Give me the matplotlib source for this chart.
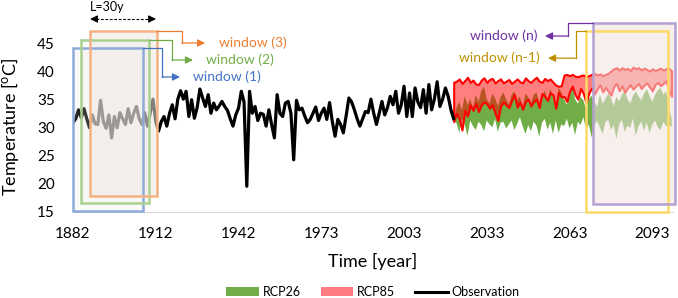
import numpy as np
import matplotlib
matplotlib.use('Agg')
import matplotlib.pyplot as plt
from matplotlib.patches import Patch, Rectangle
from matplotlib.lines import Line2D

plt.rcParams['font.family'] = ['Lato', 'DejaVu Sans']
plt.rcParams['mathtext.fontset'] = 'custom'
plt.rcParams['mathtext.rm'] = 'Lato'

# x axis is an index axis (one point per year), labelled every 30 points
tick_pos = [0, 30, 60, 90, 120, 150, 180, 210]
tick_labels = ['1882', '1912', '1942', '1973', '2003', '2033', '2063', '2093']

# observed temperature, index 0..138
observation = [
    30.8, 31.5, 33.1, 31.7, 33.3, 31.5, 29.9, 32.2, 30.6, 30.5,
    34.8, 31.0, 29.8, 32.2, 28.1, 31.9, 29.9, 32.6, 31.5, 30.5,
    33.3, 30.8, 32.5, 33.7, 31.5, 30.5, 32.6, 30.2, 32.5, 35.0,
    31.0, 29.3, 31.0, 31.9, 30.2, 32.5, 34.0, 31.5, 35.0, 36.5,
    35.0, 36.4, 31.9, 34.9, 31.6, 33.5, 36.8, 35.2, 33.7, 35.8,
    32.5, 34.3, 33.1, 33.8, 34.6, 33.7, 33.0, 31.5, 30.2, 32.2,
    33.4, 36.4, 34.5, 19.5, 36.4, 32.5, 33.7, 31.2, 32.5, 32.3,
    30.2, 33.1, 30.5, 28.1, 35.8, 32.5, 31.9, 34.3, 34.6, 32.5,
    24.2, 34.8, 33.1, 33.4, 32.0, 30.8, 31.4, 32.5, 33.6, 31.2,
    32.5, 33.4, 31.4, 34.4, 31.0, 28.4, 31.4, 30.5, 29.0, 32.0,
    35.2, 34.5, 33.1, 31.5, 30.2, 31.5, 32.8, 32.6, 35.0, 32.5,
    30.5, 32.5, 34.6, 32.2, 33.5, 35.5, 34.0, 36.4, 32.5, 34.0,
    37.3, 31.9, 36.1, 31.9, 37.0, 34.5, 33.5, 36.7, 32.5, 37.6,
    33.1, 35.0, 38.1, 33.7, 35.0, 37.0, 35.5, 33.1, 31.5,
]

# projections, index 138..217
rcp85_hi = [
    38.0, 38.2, 38.6, 37.8, 38.3, 38.9, 38.0, 38.4, 37.7, 37.6,
    38.4, 38.8, 38.0, 38.5, 38.7, 37.9, 38.3, 38.6, 37.9, 38.2,
    38.5, 37.8, 38.2, 38.6, 38.1, 37.9, 38.8, 38.3, 38.0, 38.5,
    38.9, 38.2, 38.0, 38.7, 38.3, 38.6, 38.0, 37.5, 37.3, 37.4,
    39.3, 39.4, 39.2, 39.4, 39.1, 39.0, 39.2, 39.3, 39.0, 39.2,
    39.4, 39.6, 39.3, 39.5, 39.2, 39.4, 39.6, 40.0, 40.4, 40.6,
    40.2, 40.6, 40.3, 40.5, 40.1, 40.7, 40.4, 40.6, 40.2, 40.5,
    40.3, 40.0, 40.4, 40.1, 40.3, 40.5, 40.2, 40.4, 40.5, 40.0,
]
rcp85_lo = [
    31.0, 32.5, 31.5, 29.5, 33.0, 32.0, 34.0, 33.0, 34.2, 32.8,
    34.0, 34.5, 34.2, 33.4, 34.0, 32.5, 31.2, 33.8, 34.5, 34.0,
    33.5, 34.8, 35.8, 33.6, 34.5, 33.2, 34.6, 35.0, 33.8, 34.6,
    35.0, 33.5, 36.0, 35.5, 34.8, 36.1, 35.8, 33.4, 36.2, 35.4,
    35.5, 34.6, 36.4, 37.3, 35.8, 35.0, 36.9, 36.0, 34.3, 36.1,
    37.0, 35.9, 36.8, 37.6, 36.3, 37.1, 36.4, 35.7, 37.2, 37.8,
    36.5, 37.4, 36.2, 37.0, 37.6, 36.8, 37.3, 37.8, 36.9, 37.5,
    37.9, 37.2, 36.5, 37.6, 38.0, 37.4, 37.8, 38.3, 36.5, 35.5,
]
rcp26_hi = [
    31.0, 33.5, 34.5, 33.0, 35.5, 34.0, 35.0, 33.5, 35.8, 34.5,
    36.5, 37.2, 35.0, 34.2, 36.0, 35.2, 33.8, 35.4, 36.2, 35.0,
    34.0, 35.8, 36.4, 34.8, 35.5, 33.5, 36.0, 35.4, 34.2, 35.8,
    36.2, 34.5, 35.6, 36.5, 35.0, 36.8, 35.5, 34.0, 37.0, 36.2,
    35.0, 34.0, 35.5, 37.2, 35.0, 34.2, 35.4, 34.8, 33.2, 35.0,
    35.6, 34.5, 33.6, 35.8, 34.2, 35.0, 36.0, 35.2, 33.8, 35.4,
    34.6, 35.8, 36.5, 35.0, 34.2, 35.6, 36.4, 35.5, 34.8, 36.0,
    36.8, 35.6, 34.5, 35.8, 36.6, 37.0, 35.8, 36.4, 33.5, 31.5,
]
rcp26_lo = [
    31.0, 30.8, 29.0, 31.5, 30.5, 28.5, 31.2, 30.2, 29.5, 31.0,
    30.4, 29.3, 31.2, 30.5, 30.0, 31.5, 29.2, 30.8, 31.0, 29.8,
    30.5, 31.2, 29.5, 30.6, 31.8, 30.2, 28.8, 30.4, 29.3, 31.0,
    30.3, 28.3, 30.8, 31.5, 29.6, 30.8, 28.8, 31.2, 29.0, 30.5,
    30.2, 31.5, 29.8, 30.8, 28.6, 31.0, 30.4, 31.8, 29.6, 30.5,
    28.2, 30.3, 31.2, 30.0, 28.8, 30.9, 31.4, 29.5, 30.4, 27.9,
    30.6, 31.3, 29.2, 30.3, 29.9, 31.6, 28.5, 30.2, 31.0, 29.4,
    30.8, 29.0, 30.5, 31.2, 30.0, 29.5, 31.0, 30.2, 30.5, 30.0,
]

x_obs = np.arange(len(observation))
x_proj = np.arange(len(rcp85_hi)) + len(observation) - 1

fig = plt.figure(figsize=(6.78, 2.98), dpi=100)
ax = fig.add_axes([73 / 678, 86.5 / 298, 600 / 678, 168.5 / 298])

ax.fill_between(x_proj, rcp26_lo, rcp26_hi, facecolor='#70ad47', lw=0, zorder=2)
ax.fill_between(x_proj, rcp85_lo, rcp85_hi, facecolor=(1, 0, 0, 0.5),
                edgecolor='#ff0000', lw=1.5, zorder=3)
ax.plot(x_obs, observation, color='black', lw=2.3, solid_joinstyle='round', zorder=4)

ax.set_xlim(0, 217.5)
ax.set_ylim(15, 45)
ax.set_xticks(tick_pos, tick_labels)
ax.set_yticks(range(15, 46, 5))
ax.tick_params(length=0, labelsize=11, colors='black')
ax.tick_params(axis='y', pad=13)
ax.tick_params(axis='x', pad=11)
for s in ('top', 'right', 'left'):
    ax.spines[s].set_visible(False)
ax.spines['bottom'].set_color('#d9d9d9')
ax.set_xlabel('Time [year]', fontsize=13)
ax.set_ylabel('Temperature [$^{\\mathrm{o}}$C]', fontsize=13)
ax.xaxis.set_label_coords(0.5, -0.245)
ax.yaxis.set_label_coords(-0.086, 0.5)

# windows: (x0, x1, y0, y1, edge colour, fill colour, fill alpha)
windows = [
    (0.0, 25.4, 15.09, 44.15, '#8eaadb', '#e4e4e4', 0.15),
    (2.9, 27.6, 16.5, 45.53, '#a9d18e', '#e4e4e4', 0.12),
    (6.2, 30.5, 17.7, 47.13, '#f4b183', '#efe8e2', 0.55),
    (186.1, 215.8, 14.9, 47.13, '#ffd966', '#ffffff', 0.0),
    (188.6, 218.4, 16.34, 48.56, '#b4a0d2', '#efe2de', 0.55),
]
for x0, x1, y0, y1, ec, fc, fa in windows:
    ax.add_patch(Rectangle((x0, y0), x1 - x0, y1 - y0, facecolor=fc, alpha=fa,
                           lw=0, zorder=5, clip_on=False))
for x0, x1, y0, y1, ec, fc, fa in windows:
    ax.add_patch(Rectangle((x0, y0), x1 - x0, y1 - y0, facecolor='none',
                           edgecolor=ec, lw=1.8, zorder=6, clip_on=False))

# connectors: corner -> elbow x -> label height -> arrow tip, label
labels = [
    ((30.5, 47.13), 39.5, 45.0, 47.9, 'window (3)', '#ed7d31', 52.9, 'left'),
    ((27.6, 45.53), 35.9, 41.97, 43.5, 'window (2)', '#70ad47', 48.2, 'left'),
    ((25.4, 44.15), 32.3, 38.95, 38.8, 'window (1)', '#4472c4', 43.5, 'left'),
    ((188.6, 48.56), 179.5, 46.24, 171.1, 'window (n)', '#7030a0', 168.2, 'right'),
    ((186.1, 47.13), 182.4, 42.3, 172.2, 'window (n-1)', '#bf9000', 169.3, 'right'),
]
for (cx, cy), ex, ly, tip, txt, col, tx, ha in labels:
    ax.plot([cx, ex, ex], [cy, cy, ly], color=col, lw=0.9, clip_on=False, zorder=7)
    ax.annotate('', xy=(tip, ly), xytext=(ex, ly),
                arrowprops=dict(arrowstyle='-|>', color=col, lw=0.9,
                                mutation_scale=11, shrinkA=0, shrinkB=0),
                annotation_clip=False, zorder=7)
    ax.text(tx, ly, txt, color=col, fontsize=10, ha=ha, va='center', clip_on=False)

# L = 30y marker
ax.plot([8.5, 27.8], [49.27, 49.27], color='black', lw=0.8, ls=(0, (2.5, 1.5)),
        clip_on=False)
for a, b in ((8.6, 6.2), (27.7, 30.1)):
    ax.annotate('', xy=(b, 49.27), xytext=(a, 49.27),
                arrowprops=dict(arrowstyle='-|>', color='black', lw=0.8,
                                mutation_scale=11, shrinkA=0, shrinkB=0),
                annotation_clip=False)
ax.text(6.2, 51.4, 'L=30y', fontsize=9, ha='left', va='center', clip_on=False)

handles = [Patch(facecolor='#70ad47', label='RCP26'),
           Patch(facecolor='#ff7c80', label='RCP85'),
           Line2D([], [], color='black', lw=2.2, label='Observation')]
fig.legend(handles=handles, loc='center', bbox_to_anchor=(373 / 678, 0.02), ncol=3,
           frameon=False, fontsize=9, handlelength=2.6, handletextpad=0.3,
           columnspacing=1.6)

fig.savefig('out.png', dpi=100)
